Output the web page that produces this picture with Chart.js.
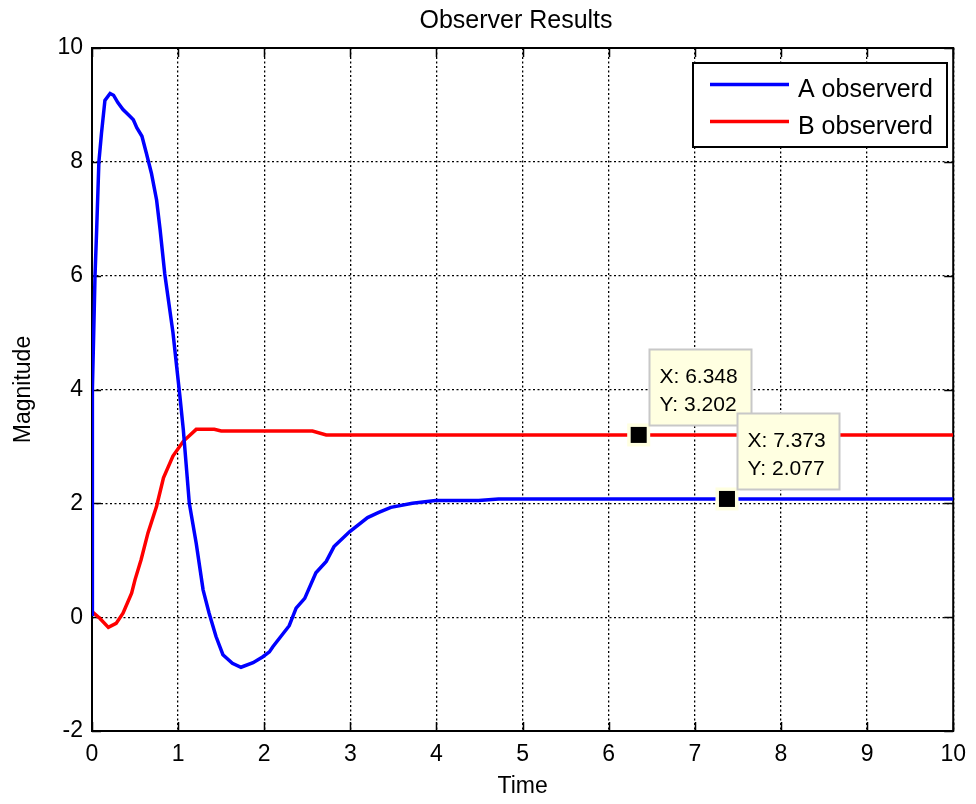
<!DOCTYPE html>
<html>
<head>
<meta charset="utf-8">
<script src="https://cdn.jsdelivr.net/npm/chart.js@4/dist/chart.umd.min.js"></script>
<style>
  html, body { margin: 0; padding: 0; background: #fff; }
  #wrap { width: 976px; height: 804px; }
</style>
</head>
<body>
<div id="wrap"><canvas id="c" width="976" height="804"></canvas></div>
<script>
const chartTitle = "Observer Results";
const xTitle = "Time";
const yTitle = "Magnitude";
const seriesNames = ["A observerd", "B observerd"];

const timeA = [0, 0.003, 0.006, 0.02, 0.035, 0.054, 0.08, 0.11, 0.15, 0.21, 0.25, 0.30, 0.36, 0.44, 0.48, 0.52, 0.58, 0.63, 0.69, 0.75, 0.79, 0.845, 0.94, 1.02, 1.06, 1.13, 1.21, 1.29, 1.36, 1.44, 1.52, 1.63, 1.73, 1.87, 1.98, 2.06, 2.10, 2.29, 2.37, 2.47, 2.60, 2.72, 2.81, 2.99, 3.20, 3.33, 3.47, 3.72, 3.99, 4.49, 4.72, 7.373, 10];
const valuesA = [0.05, 2.4, 4.0, 5.0, 6.0, 6.8, 8.0, 8.5, 9.08, 9.2, 9.17, 9.04, 8.92, 8.8, 8.74, 8.6, 8.45, 8.16, 7.8, 7.33, 6.82, 6.03, 5.0, 3.89, 3.3, 2.0, 1.3, 0.48, 0.07, -0.34, -0.66, -0.81, -0.88, -0.8, -0.7, -0.61, -0.52, -0.15, 0.16, 0.33, 0.78, 0.98, 1.24, 1.5, 1.75, 1.84, 1.93, 2.0, 2.05, 2.05, 2.077, 2.077, 2.077];

const timeB = [0, 0.09, 0.19, 0.28, 0.36, 0.46, 0.50, 0.57, 0.65, 0.75, 0.83, 0.94, 1.06, 1.21, 1.42, 1.50, 2.56, 2.72, 6.348, 10];
const valuesB = [0.1, -0.02, -0.18, -0.11, 0.07, 0.42, 0.66, 1.01, 1.48, 1.95, 2.45, 2.83, 3.09, 3.30, 3.30, 3.27, 3.27, 3.202, 3.202, 3.202];

const xTicks = [0, 1, 2, 3, 4, 5, 6, 7, 8, 9, 10];
const yTicks = [-2, 0, 2, 4, 6, 8, 10];

const tipX = [6.348, 7.373];
const tipY = [3.202, 2.077];

const FONT = '"Liberation Sans", Arial, Helvetica, sans-serif';

function toPoints(xs, ys) { return xs.map((x, i) => ({ x: x, y: ys[i] })); }

const matlabPlugin = {
  id: 'matlabDecor',
  beforeDatasetsDraw(chart) {
    const ctx = chart.ctx;
    const a = chart.chartArea;
    const xs = chart.scales.x, ys = chart.scales.y;
    ctx.save();
    ctx.strokeStyle = '#000';
    ctx.lineWidth = 1.5;
    ctx.setLineDash([]);
    const tl = 9;
    xTicks.forEach(v => {
      const px = Math.round(xs.getPixelForValue(v)) + 0.5;
      ctx.beginPath();
      ctx.moveTo(px, a.bottom); ctx.lineTo(px, a.bottom - tl);
      ctx.moveTo(px, a.top); ctx.lineTo(px, a.top + tl);
      ctx.stroke();
    });
    yTicks.forEach(v => {
      const py = Math.round(ys.getPixelForValue(v)) + 0.5;
      ctx.beginPath();
      ctx.moveTo(a.left, py); ctx.lineTo(a.left + tl, py);
      ctx.moveTo(a.right, py); ctx.lineTo(a.right - tl, py);
      ctx.stroke();
    });
    ctx.lineWidth = 2;
    ctx.strokeRect(a.left, a.top, a.right - a.left, a.bottom - a.top);
    ctx.restore();
  },
  afterDatasetsDraw(chart) {
    const ctx = chart.ctx;
    const xs = chart.scales.x, ys = chart.scales.y;
    ctx.save();
    // legend
    const lx = 693, ly = 63, lw = 254, lh = 84;
    ctx.fillStyle = '#fff';
    ctx.fillRect(lx, ly, lw, lh);
    ctx.strokeStyle = '#000';
    ctx.lineWidth = 2;
    ctx.strokeRect(lx, ly, lw, lh);
    const rowY = [84.5, 121.5];
    chart.data.datasets.forEach((ds, i) => {
      ctx.strokeStyle = ds.borderColor;
      ctx.lineWidth = 3.5;
      ctx.beginPath();
      ctx.moveTo(710, rowY[i]); ctx.lineTo(789, rowY[i]);
      ctx.stroke();
      ctx.fillStyle = '#000';
      ctx.font = '25px ' + FONT;
      ctx.textAlign = 'left';
      ctx.textBaseline = 'alphabetic';
      ctx.fillText(ds.label, 798, rowY[i] + 12);
    });

    // data tips
    tipX.forEach((tx, i) => {
      const px = xs.getPixelForValue(tx);
      const py = ys.getPixelForValue(tipY[i]);
      ctx.fillStyle = '#ffffe1';
      ctx.fillRect(px - 11.5, py - 11.5, 23, 23);
      ctx.fillStyle = '#000';
      ctx.fillRect(px - 8, py - 8, 16, 16);
      const bx = Math.round(px + 10) + 0.5, by = Math.round(py - 86) + 0.5;
      const bw = 102, bh = 76;
      ctx.fillStyle = '#ffffe1';
      ctx.fillRect(bx, by, bw, bh);
      ctx.strokeStyle = '#c8c8c8';
      ctx.lineWidth = 2;
      ctx.strokeRect(bx, by, bw, bh);
      ctx.fillStyle = '#000';
      ctx.font = '21px ' + FONT;
      ctx.textAlign = 'left';
      ctx.textBaseline = 'alphabetic';
      ctx.fillText('X: ' + tx.toFixed(3), bx + 10, by + 33);
      ctx.fillText('Y: ' + tipY[i].toFixed(3), bx + 10, by + 61);
    });

    // title
    ctx.fillStyle = '#000';
    ctx.font = '25px ' + FONT;
    ctx.textAlign = 'center';
    ctx.textBaseline = 'alphabetic';
    ctx.fillText(chartTitle, 516, 28);
    ctx.restore();
  }
};

new Chart(document.getElementById('c'), {
  type: 'line',
  data: {
    datasets: [
      { label: seriesNames[0], data: toPoints(timeA, valuesA), borderColor: '#0000ff', borderWidth: 3.5, pointRadius: 0, tension: 0, fill: false },
      { label: seriesNames[1], data: toPoints(timeB, valuesB), borderColor: '#ff0000', borderWidth: 3.5, pointRadius: 0, tension: 0, fill: false }
    ]
  },
  options: {
    responsive: false,
    animation: false,
    events: [],
    layout: { padding: { top: 48, right: 20, bottom: 0, left: 0 } },
    plugins: {
      legend: { display: false },
      tooltip: { enabled: false },
      title: { display: false }
    },
    scales: {
      x: {
        type: 'linear', min: 0, max: 10,
        afterBuildTicks: s => { s.ticks = xTicks.map(v => ({ value: v })); },
        afterFit: s => { s.height = 73; },
        ticks: { color: '#000', font: { family: FONT, size: 23 }, padding: 10, maxRotation: 0, autoSkip: false },
        grid: { color: '#000', lineWidth: 1.3, drawTicks: false },
        border: { display: false, dash: [2, 2.5] },
        title: { display: true, text: xTitle, color: '#000', font: { family: FONT, size: 23 }, padding: { top: 0, bottom: 4 } }
      },
      y: {
        type: 'linear', min: -2, max: 10,
        afterBuildTicks: s => { s.ticks = yTicks.map(v => ({ value: v })); },
        afterFit: s => { s.width = 92; },
        ticks: { color: '#000', font: { family: FONT, size: 23 }, padding: 9 },
        grid: { color: '#000', lineWidth: 1.3, drawTicks: false },
        border: { display: false, dash: [2, 2.5] },
        title: { display: true, text: yTitle, color: '#000', font: { family: FONT, size: 23 }, padding: { top: 10, bottom: 0 } }
      }
    }
  },
  plugins: [matlabPlugin]
});
</script>
</body>
</html>
